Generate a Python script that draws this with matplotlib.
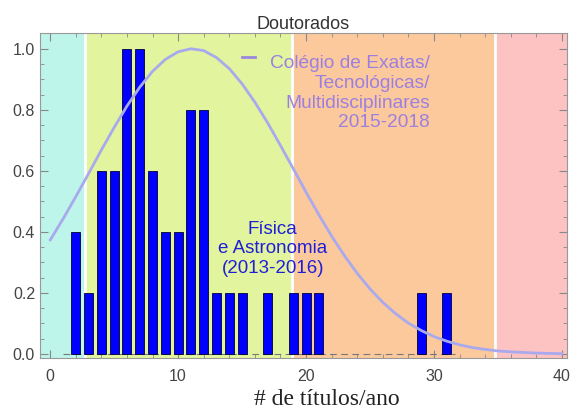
import numpy as np
import matplotlib
matplotlib.use('Agg')
import matplotlib.pyplot as plt

# histogram: Fisica e Astronomia (2013-2016)
bar_x = [2, 3, 4, 5, 6, 7, 8, 9, 10, 11, 12, 13, 14, 15, 17, 19, 20, 21, 29, 31]
bar_h = [0.4, 0.2, 0.6, 0.6, 1.0, 1.0, 0.6, 0.4, 0.4, 0.8, 0.8, 0.2, 0.2, 0.2,
         0.2, 0.2, 0.2, 0.2, 0.2, 0.2]

# curve: Colegio de Exatas/Tecnologicas/Multidisciplinares 2015-2018
curve_x = list(range(0, 41))
curve_y = [0.373, 0.442, 0.515, 0.591, 0.668, 0.742, 0.812, 0.874, 0.926, 0.965,
           0.990, 1.000, 0.994, 0.971, 0.935, 0.885, 0.825, 0.757, 0.683, 0.607,
           0.530, 0.456, 0.386, 0.322, 0.264, 0.213, 0.169, 0.132, 0.101, 0.077,
           0.057, 0.042, 0.030, 0.021, 0.015, 0.010, 0.007, 0.005, 0.003, 0.002,
           0.001]

# background bands
band_edges = [-0.8, 2.7, 18.9, 34.8, 40.5]
band_colors = ['#bdf5ea', '#e2f59e', '#fcc99d', '#fdc3c3']

plt.rcParams['font.family'] = ['Liberation Sans', 'DejaVu Sans']

fig = plt.figure(figsize=(5.7, 4.11), dpi=100)
ax = fig.add_axes([0.070, 0.129, 0.925, 0.791])

for i in range(len(band_colors)):
    ax.axvspan(band_edges[i], band_edges[i + 1], color=band_colors[i], lw=0, zorder=0)
for e in band_edges[1:-1]:
    ax.axvline(e, color='white', lw=2, zorder=1)

ax.plot([1.0, 31.6], [0, 0], color='#777777', lw=0.8, ls=(0, (6, 4)), zorder=2)
ax.bar(bar_x, bar_h, width=0.7, color='#0000ff', edgecolor='#000033', lw=0.6, zorder=3)
ax.plot(curve_x, curve_y, color='#a9a9ee', lw=2, zorder=4, solid_capstyle='round')

# legend-like labels
ax.plot([15.0, 16.0], [0.972, 0.972], color='#9b88dd', lw=2, zorder=5)
ax.text(29.7, 0.98, 'Colégio de Exatas/\nTecnológicas/\nMultidisciplinares\n2015-2018',
        ha='right', va='top', color='#9b80e0', fontsize=13.8, linespacing=1.22,
        zorder=5)
ax.text(17.4, 0.345, 'Física\ne Astronomia\n(2013-2016)', ha='center', va='center',
        color='#1f1fd6', fontsize=13.5, linespacing=1.18, zorder=5)

ax.set_xlim(-0.8, 40.4)
ax.set_ylim(-0.013, 1.052)
ax.set_xticks([0, 10, 20, 30, 40])
ax.set_xticks(np.arange(0, 41, 2), minor=True)
ax.set_yticks([0.0, 0.2, 0.4, 0.6, 0.8, 1.0])
ax.set_yticks(np.arange(0, 1.01, 0.05), minor=True)
ax.tick_params(which='both', direction='in', top=True, right=True, colors='#888888',
               labelcolor='#444444', labelsize=11.5)
ax.tick_params(which='major', length=6)
ax.tick_params(which='minor', length=3)
ax.tick_params(axis='x', which='major', pad=8)
for s in ax.spines.values():
    s.set_color('#999999')

ax.set_title('Doutorados', fontsize=13, color='#333333', pad=3)
ax.set_xlabel('# de títulos/ano', fontsize=17, family='Liberation Serif', color='#222222')
ax.xaxis.set_label_coords(0.545, -0.095)

fig.savefig('out.png', dpi=100)
